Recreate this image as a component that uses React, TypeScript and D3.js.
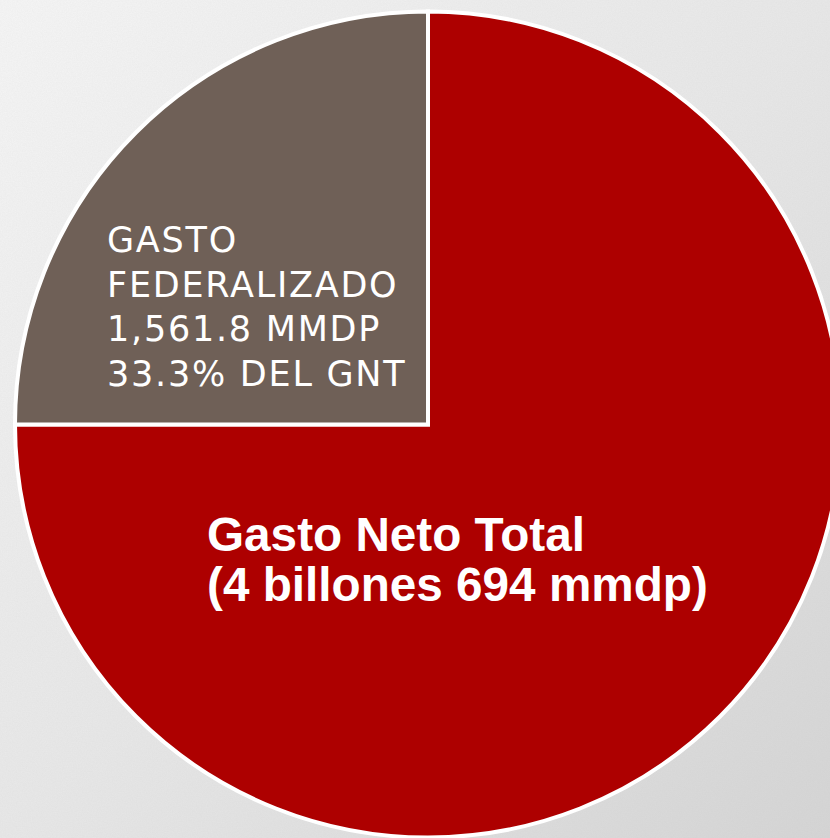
import React from "react";
import * as d3 from "d3";

const W = 830;
const H = 838;

// Slices as drawn in the picture (share of the circle, clockwise from 12 o'clock)
const sliceNames = ["Gasto Neto Total", "Gasto Federalizado"];
const sliceShares = [75, 25];
const sliceColors = ["#ad0000", "#6f6057"];

const federalLines = ["GASTO", "FEDERALIZADO", "1,561.8 MMDP", "33.3% DEL GNT"];
const totalLines = ["Gasto Neto Total", "(4 billones 694 mmdp)"];

export default function App() {
  const cx = 428;
  const cy = 424.5;
  const r = 413;
  const pie = d3
    .pie<number>()
    .sort(null)
    .value((d) => d)
    .startAngle(0)
    .endAngle(2 * Math.PI);
  const arcs = pie(sliceShares);
  const arc = d3.arc<d3.PieArcDatum<number>>().innerRadius(0).outerRadius(r);

  return (
    <svg
      width={W}
      height={H}
      style={{ position: "absolute", left: 0, top: 0, display: "block" }}
    >
      <defs>
        <linearGradient id="bg" x1="0" y1="0" x2="1" y2="1">
          <stop offset="0" stopColor="#f6f6f6" />
          <stop offset="0.5" stopColor="#e8e8e8" />
          <stop offset="1" stopColor="#d5d5d5" />
        </linearGradient>
        <filter id="noise" x="0" y="0" width="100%" height="100%">
          <feTurbulence type="fractalNoise" baseFrequency="0.8" numOctaves="2" seed="3" />
          <feColorMatrix type="matrix" values="0 0 0 0 0.5  0 0 0 0 0.5  0 0 0 0 0.5  0 0 0 0.14 0" />
        </filter>
      </defs>
      <rect x={0} y={0} width={W} height={H} fill="url(#bg)" />
      <rect x={0} y={0} width={W} height={H} filter="url(#noise)" />
      <g transform={`translate(${cx},${cy})`}>
        {arcs.map((a, i) => (
          <path
            key={sliceNames[i]}
            d={arc(a) || ""}
            fill={sliceColors[i]}
            stroke="#ffffff"
            strokeWidth={4}
            strokeLinejoin="miter"
          />
        ))}
      </g>
      <text
        fill="#ffffff"
        fontFamily="'DejaVu Sans', Verdana, sans-serif"
        fontSize={35}
        letterSpacing={1.75}
      >
        {federalLines.map((t, i) => (
          <tspan key={t} x={107} y={252 + i * 44.7}>
            {t}
          </tspan>
        ))}
      </text>
      <text
        fill="#ffffff"
        fontFamily="'Liberation Sans', Arial, sans-serif"
        fontWeight="bold"
        fontSize={47.7}
      >
        {totalLines.map((t, i) => (
          <tspan key={t} x={207} y={551 + i * 50}>
            {t}
          </tspan>
        ))}
      </text>
    </svg>
  );
}
